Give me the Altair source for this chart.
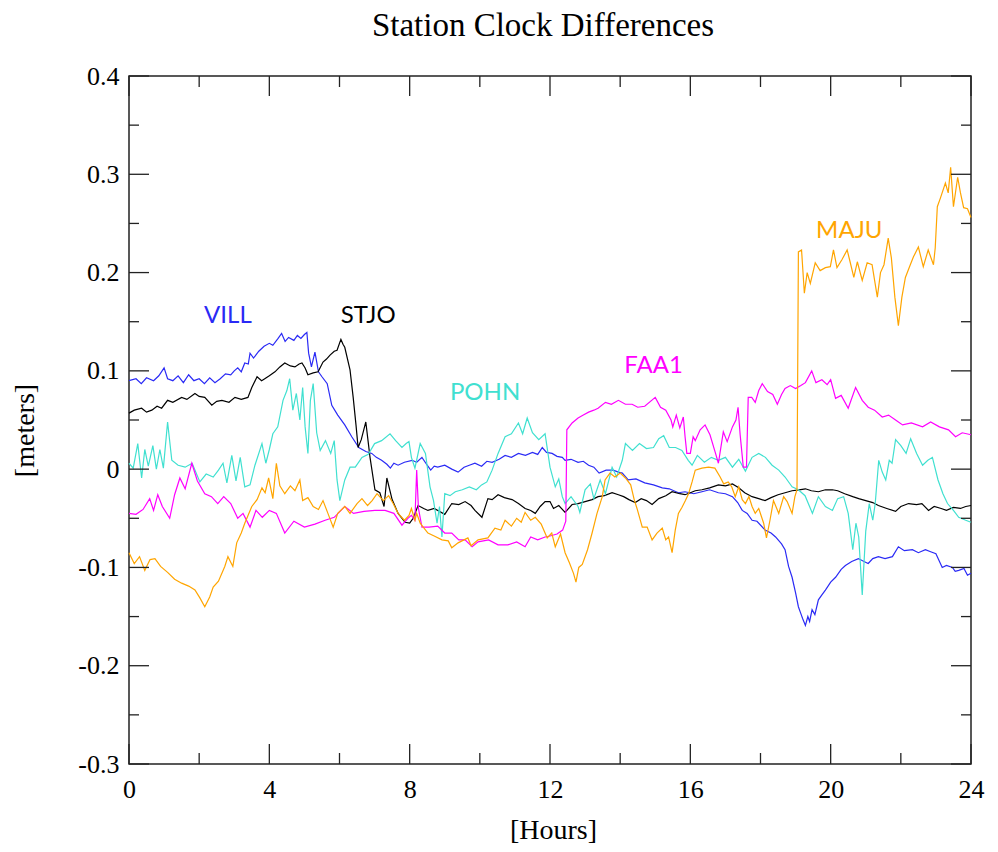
import altair as alt
import pandas as pd

# ---------------- data ----------------
vill_h = [0.0,0.2,0.35,0.5,0.7,0.85,1.0,1.1,1.25,1.4,1.55,1.7,1.85,2.0,2.15,2.3,2.45,2.6,2.75,2.9,3.0,3.1,3.2,3.3,3.4,3.45,3.55,3.7,3.85,4.0,4.1,4.25,4.35,4.45,4.55,4.7,4.8,4.9,5.0,5.07,5.12,5.2,5.3,5.4,5.5,5.65,5.78,5.95,6.15,6.35,6.55,6.75,6.92,7.05,7.2,7.35,7.45,7.55,7.67,7.85,8.07,8.2,8.35,8.5,8.6,8.7,8.8,9.0,9.2,9.38,9.55,9.7,9.86,10.05,10.2,10.35,10.55,10.72,10.9,11.1,11.3,11.5,11.65,11.78,11.9,12.06,12.2,12.35,12.43,12.6,12.8,12.95,13.1,13.25,13.4,13.6,13.8,13.95,14.06,14.23,14.45,14.7,14.95,15.2,15.4,15.66,15.85,16.1,16.33,16.55,16.8,17.0,17.2,17.35,17.48,17.62,17.76,17.9,18.13,18.3,18.43,18.6,18.7,18.8,18.9,19.0,19.08,19.14,19.2,19.28,19.35,19.4,19.47,19.55,19.65,19.75,19.85,20.0,20.14,20.3,20.42,20.6,20.79,20.95,21.07,21.2,21.36,21.55,21.76,21.93,22.1,22.33,22.5,22.7,22.85,23.0,23.18,23.3,23.47,23.55,23.65,23.8,23.9,24.0]
vill_v = [0.090,0.092,0.087,0.093,0.090,0.095,0.103,0.092,0.090,0.095,0.088,0.096,0.090,0.092,0.087,0.093,0.088,0.092,0.097,0.096,0.100,0.103,0.099,0.108,0.107,0.118,0.113,0.120,0.125,0.128,0.126,0.133,0.138,0.130,0.134,0.131,0.136,0.133,0.137,0.139,0.118,0.104,0.119,0.099,0.094,0.087,0.065,0.055,0.045,0.033,0.022,0.018,0.016,0.012,0.009,0.005,0.001,0.006,0.004,0.007,0.009,0.007,0.012,0.004,-0.001,0.003,0.002,0.004,0.000,-0.003,0.002,0.004,0.006,0.003,0.008,0.007,0.010,0.014,0.012,0.016,0.014,0.017,0.015,0.022,0.017,0.016,0.013,0.012,0.009,0.010,0.007,0.008,0.004,0.002,-0.004,-0.001,-0.001,-0.003,-0.004,-0.011,-0.010,-0.014,-0.016,-0.019,-0.020,-0.024,-0.023,-0.025,-0.023,-0.021,-0.024,-0.025,-0.028,-0.034,-0.042,-0.045,-0.052,-0.053,-0.062,-0.065,-0.069,-0.076,-0.082,-0.099,-0.110,-0.126,-0.140,-0.146,-0.152,-0.159,-0.150,-0.155,-0.143,-0.148,-0.133,-0.128,-0.123,-0.115,-0.110,-0.102,-0.098,-0.094,-0.091,-0.094,-0.096,-0.091,-0.089,-0.091,-0.089,-0.079,-0.083,-0.082,-0.085,-0.082,-0.084,-0.086,-0.100,-0.098,-0.100,-0.104,-0.103,-0.101,-0.108,-0.106]

stjo_h = [0.0,0.15,0.36,0.5,0.65,0.8,0.93,1.1,1.25,1.5,1.65,1.88,2.0,2.16,2.36,2.5,2.65,2.85,3.02,3.2,3.39,3.5,3.65,3.78,3.87,4.0,4.16,4.3,4.44,4.6,4.73,4.85,4.93,5.02,5.1,5.25,5.39,5.53,5.63,5.73,5.85,5.93,6.04,6.1,6.15,6.3,6.39,6.47,6.53,6.62,6.75,6.87,7.01,7.15,7.27,7.35,7.5,7.67,7.87,8.0,8.1,8.24,8.4,8.52,8.7,9.0,9.2,9.4,9.58,9.75,9.86,10.06,10.23,10.35,10.52,10.7,10.92,11.1,11.29,11.45,11.58,11.72,11.86,12.0,12.1,12.25,12.43,12.63,12.8,13.0,13.2,13.37,13.55,13.77,13.95,14.1,14.25,14.43,14.6,14.75,14.91,15.1,15.3,15.48,15.7,15.85,16.0,16.14,16.33,16.55,16.8,17.0,17.2,17.38,17.55,17.76,17.95,18.13,18.3,18.5,18.7,18.9,19.1,19.28,19.45,19.65,19.85,20.05,20.2,20.4,20.63,20.8,21.0,21.2,21.36,21.6,21.85,22.0,22.22,22.45,22.6,22.79,22.95,23.15,23.3,23.5,23.7,23.85,24.0]
stjo_v = [0.057,0.060,0.062,0.058,0.060,0.064,0.062,0.070,0.068,0.073,0.071,0.077,0.074,0.073,0.065,0.069,0.070,0.068,0.073,0.071,0.073,0.083,0.094,0.090,0.092,0.095,0.099,0.104,0.108,0.105,0.104,0.107,0.108,0.103,0.096,0.098,0.099,0.109,0.112,0.116,0.120,0.121,0.132,0.127,0.124,0.101,0.073,0.045,0.022,0.030,0.048,0.012,-0.021,-0.024,-0.038,-0.009,-0.031,-0.045,-0.054,-0.055,-0.050,-0.037,-0.040,-0.042,-0.040,-0.046,-0.035,-0.036,-0.033,-0.037,-0.042,-0.049,-0.030,-0.031,-0.026,-0.029,-0.031,-0.035,-0.040,-0.042,-0.045,-0.038,-0.033,-0.033,-0.040,-0.037,-0.044,-0.036,-0.035,-0.033,-0.031,-0.028,-0.027,-0.024,-0.026,-0.028,-0.031,-0.034,-0.030,-0.032,-0.036,-0.030,-0.027,-0.023,-0.025,-0.026,-0.024,-0.022,-0.021,-0.019,-0.016,-0.017,-0.015,-0.019,-0.024,-0.028,-0.030,-0.032,-0.029,-0.026,-0.024,-0.022,-0.021,-0.020,-0.022,-0.023,-0.021,-0.021,-0.022,-0.025,-0.028,-0.030,-0.032,-0.034,-0.037,-0.040,-0.043,-0.038,-0.035,-0.036,-0.035,-0.042,-0.038,-0.040,-0.042,-0.039,-0.040,-0.038,-0.037]

pohn_h = [0.0,0.12,0.25,0.36,0.45,0.55,0.68,0.78,0.88,0.98,1.1,1.22,1.4,1.6,1.8,2.02,2.2,2.4,2.55,2.68,2.79,2.93,3.05,3.17,3.3,3.45,3.59,3.79,3.9,4.0,4.1,4.24,4.39,4.5,4.58,4.67,4.77,4.87,4.95,5.02,5.1,5.17,5.25,5.35,5.45,5.6,5.75,5.85,5.93,6.01,6.15,6.3,6.45,6.64,6.82,7.0,7.2,7.44,7.6,7.78,7.9,7.98,8.05,8.15,8.3,8.45,8.58,8.68,8.78,8.85,8.92,9.0,9.15,9.3,9.5,9.7,9.9,10.05,10.2,10.35,10.52,10.72,10.9,11.1,11.22,11.35,11.5,11.68,11.86,12.0,12.15,12.25,12.35,12.43,12.6,12.8,12.85,13.0,13.15,13.25,13.43,13.58,13.77,13.9,14.06,14.15,14.35,14.55,14.75,14.95,15.1,15.24,15.4,15.58,15.76,15.94,16.05,16.2,16.4,16.6,16.8,17.0,17.2,17.38,17.57,17.76,17.95,18.14,18.33,18.52,18.7,18.9,19.08,19.27,19.48,19.65,19.85,20.05,20.2,20.37,20.5,20.63,20.72,20.8,20.9,21.0,21.1,21.2,21.27,21.37,21.47,21.57,21.67,21.75,21.85,22.0,22.15,22.28,22.45,22.62,22.77,22.9,23.06,23.2,23.33,23.5,23.65,23.85,24.0]
pohn_v = [0.006,0.001,0.026,-0.009,0.020,0.003,0.024,0.000,0.020,0.001,0.048,0.009,0.004,0.002,0.006,-0.013,-0.005,-0.008,-0.001,0.006,-0.014,0.014,-0.012,0.012,-0.018,-0.016,0.004,0.026,0.006,0.020,0.036,0.043,0.070,0.080,0.092,0.060,0.077,0.050,0.083,0.043,0.016,0.070,0.087,0.037,0.019,0.029,0.016,0.029,-0.011,-0.032,-0.011,0.002,0.002,0.012,0.015,0.026,0.029,0.036,0.029,0.022,0.026,0.028,0.012,0.001,0.026,0.016,-0.018,-0.032,-0.055,-0.038,-0.069,-0.025,-0.027,-0.023,-0.021,-0.018,-0.021,-0.016,-0.013,-0.001,0.016,0.033,0.036,0.047,0.036,0.052,0.037,0.030,0.036,0.002,-0.018,-0.010,-0.028,-0.035,-0.028,-0.038,-0.044,-0.021,-0.015,-0.030,-0.011,-0.025,0.002,-0.008,0.009,0.026,0.019,0.026,0.021,0.022,0.031,0.034,0.022,0.022,0.019,0.009,0.004,0.014,0.007,0.012,0.009,0.012,0.002,0.010,-0.002,0.012,0.016,0.012,0.004,-0.001,-0.008,-0.018,-0.021,-0.027,-0.045,-0.028,-0.038,-0.042,-0.030,-0.028,-0.045,-0.082,-0.055,-0.069,-0.128,-0.063,-0.035,-0.052,-0.035,0.009,-0.003,-0.011,0.009,0.006,0.030,0.024,0.016,0.031,0.016,0.004,0.009,0.012,-0.011,-0.025,-0.035,-0.042,-0.049,-0.052,-0.054]

faa1_h = [0.0,0.2,0.4,0.59,0.7,0.82,0.95,1.16,1.3,1.45,1.6,1.79,1.95,2.16,2.35,2.53,2.7,2.9,3.1,3.25,3.45,3.62,3.8,4.0,4.2,4.44,4.7,5.0,5.3,5.59,5.85,6.15,6.4,6.7,7.01,7.3,7.55,7.78,7.95,8.05,8.15,8.2,8.25,8.35,8.55,8.8,9.0,9.2,9.4,9.58,9.78,9.95,10.25,10.52,10.8,11.05,11.29,11.45,11.65,11.86,12.0,12.2,12.36,12.45,12.48,12.63,12.8,12.95,13.1,13.25,13.37,13.58,13.75,13.95,14.15,14.34,14.5,14.7,15.0,15.15,15.3,15.45,15.5,15.6,15.7,15.8,15.85,15.9,16.0,16.08,16.14,16.28,16.42,16.56,16.71,16.8,16.94,17.05,17.2,17.3,17.36,17.42,17.51,17.6,17.65,17.75,17.85,17.95,18.05,18.2,18.35,18.48,18.6,18.7,18.85,19.0,19.15,19.28,19.46,19.58,19.75,19.9,20.0,20.14,20.3,20.5,20.71,20.9,21.07,21.25,21.47,21.65,21.85,22.05,22.3,22.62,22.85,23.1,23.36,23.56,23.75,24.0]
faa1_v = [-0.045,-0.046,-0.041,-0.030,-0.042,-0.026,-0.038,-0.050,-0.026,-0.009,-0.020,0.006,-0.012,-0.025,-0.028,-0.035,-0.028,-0.035,-0.050,-0.045,-0.059,-0.042,-0.049,-0.042,-0.045,-0.065,-0.053,-0.059,-0.056,-0.052,-0.049,-0.038,-0.045,-0.043,-0.042,-0.042,-0.045,-0.057,-0.050,-0.047,-0.052,-0.001,-0.040,-0.059,-0.059,-0.058,-0.065,-0.065,-0.072,-0.072,-0.079,-0.074,-0.072,-0.077,-0.077,-0.074,-0.079,-0.069,-0.072,-0.069,-0.068,-0.066,-0.062,-0.053,0.040,0.047,0.052,0.055,0.058,0.060,0.062,0.068,0.066,0.070,0.066,0.066,0.063,0.064,0.073,0.063,0.060,0.050,0.043,0.055,0.042,0.053,0.033,0.016,0.016,0.033,0.029,0.040,0.045,0.035,0.017,0.006,0.038,0.028,0.043,0.050,0.063,0.035,0.002,0.002,0.073,0.073,0.068,0.080,0.087,0.079,0.076,0.066,0.076,0.082,0.085,0.082,0.085,0.088,0.100,0.088,0.091,0.086,0.091,0.072,0.075,0.062,0.083,0.070,0.063,0.060,0.053,0.055,0.050,0.045,0.047,0.043,0.048,0.043,0.040,0.033,0.037,0.035]

maju_h = [0.0,0.15,0.3,0.45,0.6,0.74,0.9,1.1,1.3,1.5,1.7,1.88,2.02,2.16,2.3,2.4,2.55,2.73,2.82,2.96,3.07,3.2,3.3,3.5,3.65,3.79,3.88,3.98,4.1,4.2,4.3,4.44,4.6,4.73,4.87,4.95,5.1,5.25,5.4,5.53,5.67,5.82,5.95,6.15,6.3,6.5,6.64,6.8,6.93,7.07,7.25,7.4,7.53,7.67,7.85,7.98,8.05,8.15,8.2,8.3,8.52,8.7,8.92,9.1,9.2,9.38,9.66,9.75,9.95,10.23,10.43,10.6,10.72,10.9,11.05,11.18,11.29,11.45,11.58,11.75,11.92,12.05,12.15,12.3,12.43,12.55,12.67,12.74,12.82,12.92,13.07,13.2,13.34,13.49,13.57,13.71,13.85,14.0,14.15,14.3,14.4,14.48,14.63,14.77,14.91,15.05,15.2,15.3,15.38,15.48,15.57,15.66,15.76,15.86,15.95,16.05,16.14,16.33,16.52,16.7,16.85,16.95,17.08,17.18,17.28,17.38,17.48,17.57,17.67,17.76,17.85,17.95,18.09,18.17,18.27,18.37,18.52,18.66,18.76,18.9,18.98,19.04,19.08,19.17,19.25,19.33,19.42,19.56,19.7,19.85,19.99,20.08,20.18,20.32,20.47,20.56,20.66,20.76,20.9,21.04,21.18,21.33,21.42,21.52,21.64,21.73,21.83,21.93,22.03,22.13,22.27,22.36,22.5,22.64,22.78,22.93,22.98,23.04,23.13,23.27,23.35,23.42,23.5,23.62,23.7,23.79,23.9,24.0]
maju_v = [-0.085,-0.096,-0.089,-0.103,-0.092,-0.091,-0.099,-0.105,-0.112,-0.116,-0.119,-0.123,-0.131,-0.140,-0.130,-0.120,-0.114,-0.099,-0.089,-0.099,-0.075,-0.065,-0.055,-0.038,-0.031,-0.019,-0.024,-0.009,-0.030,0.006,-0.017,-0.025,-0.017,-0.022,-0.011,-0.032,-0.029,-0.038,-0.041,-0.032,-0.045,-0.059,-0.045,-0.038,-0.045,-0.035,-0.030,-0.037,-0.032,-0.025,-0.032,-0.027,-0.035,-0.045,-0.052,-0.047,-0.040,-0.052,-0.045,-0.055,-0.065,-0.068,-0.072,-0.073,-0.080,-0.075,-0.070,-0.078,-0.072,-0.070,-0.060,-0.062,-0.052,-0.058,-0.050,-0.054,-0.044,-0.052,-0.049,-0.056,-0.070,-0.065,-0.079,-0.066,-0.085,-0.095,-0.106,-0.115,-0.100,-0.097,-0.082,-0.065,-0.045,-0.028,-0.011,-0.004,-0.008,-0.004,-0.009,-0.016,-0.031,-0.040,-0.059,-0.059,-0.072,-0.065,-0.060,-0.072,-0.069,-0.085,-0.062,-0.045,-0.039,-0.032,-0.025,-0.013,-0.001,0.001,0.002,0.001,-0.008,-0.015,-0.013,-0.018,-0.028,-0.018,-0.031,-0.035,-0.028,-0.038,-0.045,-0.040,-0.055,-0.070,-0.052,-0.032,-0.045,-0.028,-0.033,-0.045,-0.028,-0.021,0.221,0.223,0.179,0.200,0.189,0.210,0.202,0.205,0.206,0.223,0.205,0.213,0.223,0.210,0.195,0.211,0.192,0.210,0.208,0.175,0.200,0.208,0.235,0.215,0.175,0.146,0.175,0.195,0.208,0.216,0.226,0.206,0.223,0.208,0.225,0.267,0.276,0.291,0.281,0.307,0.267,0.297,0.281,0.266,0.265,0.256]

series_names = ["VILL", "STJO", "POHN", "FAA1", "MAJU"]
series_colors = ["#2a2af5", "#000000", "#40e0d0", "#ff00ff", "#ffa500"]
series_hours = [vill_h, stjo_h, pohn_h, faa1_h, maju_h]
series_vals = [vill_v, stjo_v, pohn_v, faa1_v, maju_v]

label_hour = [2.82, 6.82, 10.15, 14.95, 20.53]
label_value = [0.156, 0.156, 0.077, 0.105, 0.242]

y_major = [-0.3, -0.2, -0.1, 0.0, 0.1, 0.2, 0.3, 0.4]
y_minor = [-0.25, -0.15, -0.05, 0.05, 0.15, 0.25, 0.35]
x_major = [0, 4, 8, 12, 16, 20, 24]
x_minor = [2, 6, 10, 14, 18, 22]

chart_title = "Station Clock Differences"

# ---------------- chart ----------------
W, H = 842, 688
SERIF = "Liberation Serif"

xs = alt.Scale(domain=[0, 24], nice=False, zero=False)
ys = alt.Scale(domain=[-0.3, 0.4], nice=False, zero=False)

x_axis = alt.Axis(values=x_major, format="d", ticks=False, domain=False, grid=False,
                  labelFont=SERIF, labelFontSize=26, labelColor="black", labelPadding=12,
                  labelFlush=False, labelOverlap=False,
                  title="[Hours]", titleFont=SERIF, titleFontSize=28, titleFontWeight="normal",
                  titleColor="black", titleX=424, titleY=74, titleBaseline="alphabetic",
                  titleAnchor="middle", titleAlign="center")
y_axis = alt.Axis(values=y_major, ticks=False, domain=False, grid=False,
                  labelExpr="datum.value < -0.0001 ? '-' + format(-datum.value, '.1~f') : format(abs(datum.value), '.1~f')",
                  labelFont=SERIF, labelFontSize=26, labelColor="black", labelPadding=10,
                  labelFlush=False, labelOverlap=False,
                  title="[meters]", titleFont=SERIF, titleFontSize=28, titleFontWeight="normal",
                  titleColor="black", titleX=-104, titleY=354, titleAngle=-90,
                  titleBaseline="middle", titleAlign="center")

X = lambda: alt.X("h:Q", scale=xs, axis=x_axis)
Y = lambda: alt.Y("v:Q", scale=ys, axis=y_axis)

layers = []

for name, col, hh, vv in zip(series_names, series_colors, series_hours, series_vals):
    df = pd.DataFrame({"h": hh, "v": vv, "s": name})
    layers.append(alt.Chart(df).mark_line(color=col, strokeWidth=1.2, interpolate="linear").encode(
        x=X(), y=Y(), order="h:Q"))

lab_df = pd.DataFrame({"name": series_names, "h": label_hour, "v": label_value,
                       "c": series_colors})
layers.append(alt.Chart(lab_df).mark_text(font="Lato", fontSize=24, align="center",
                                          baseline="middle").encode(
    x=X(), y=Y(), text="name:N",
    color=alt.Color("c:N", scale=None, legend=None)))

# inward tick marks on all four sides
def yticks(vals, length):
    df = pd.DataFrame({"v": vals})
    left = alt.Chart(df).mark_rule(color="#222", strokeWidth=1.3).encode(
        y=Y(), x=alt.value(0), x2=alt.value(length))
    right = alt.Chart(df).mark_rule(color="#222", strokeWidth=1.3).encode(
        y=Y(), x=alt.value(W - length), x2=alt.value(W))
    return [left, right]

def xticks(vals, length):
    df = pd.DataFrame({"h": vals})
    bottom = alt.Chart(df).mark_rule(color="#222", strokeWidth=1.3).encode(
        x=X(), y=alt.value(H - length), y2=alt.value(H))
    top = alt.Chart(df).mark_rule(color="#222", strokeWidth=1.3).encode(
        x=X(), y=alt.value(0), y2=alt.value(length))
    return [bottom, top]

layers += yticks(y_major, 20) + yticks(y_minor, 10) + xticks(x_major, 20) + xticks(x_minor, 11)

# chart title as a text mark above the plot
title_df = pd.DataFrame({"t": [chart_title]})
layers.append(alt.Chart(title_df).mark_text(font=SERIF, fontSize=33, color="black",
                                            align="center", baseline="alphabetic").encode(
    text="t:N", x=alt.value(W / 2 - 7), y=alt.value(-40)))

chart = alt.layer(*layers).properties(
    width=W, height=H,
    autosize=alt.AutoSizeParams(type="none"),
    padding={"left": 121, "top": 68, "right": 15, "bottom": 86},
    background="white",
).configure_view(stroke="#222", strokeWidth=1.5)

chart.save("out.html", embed_options={"renderer": "svg", "actions": False})
